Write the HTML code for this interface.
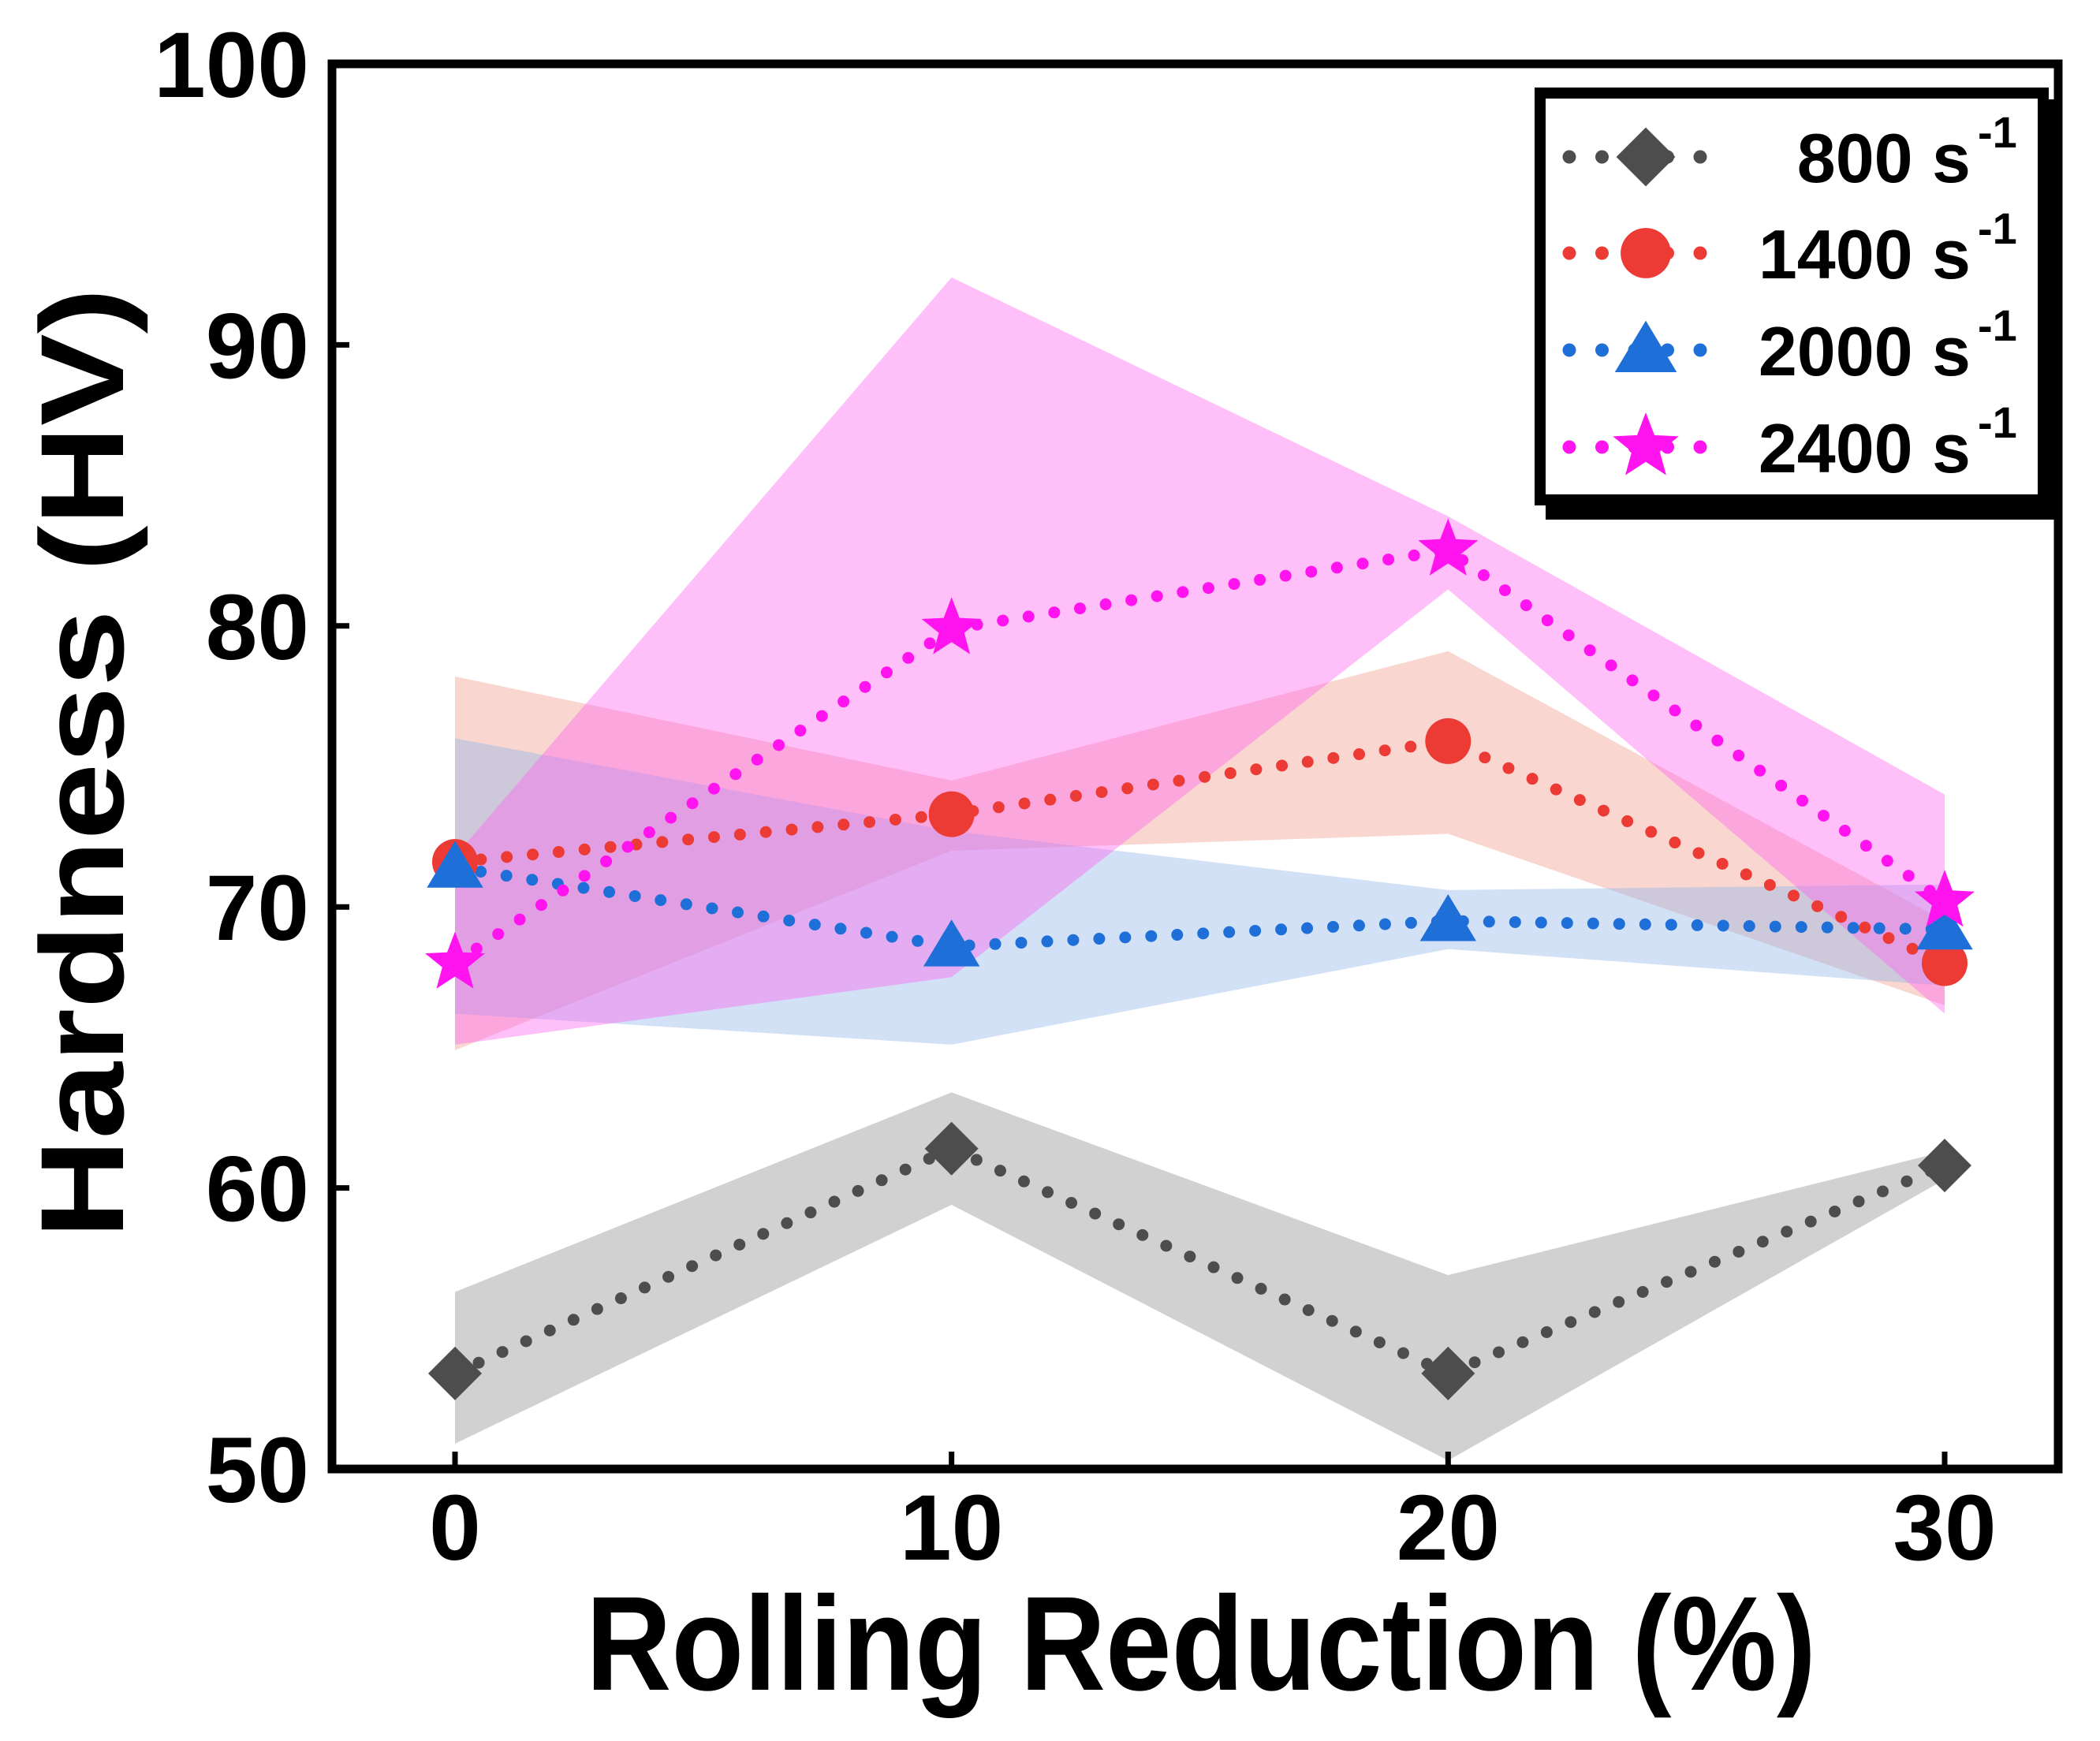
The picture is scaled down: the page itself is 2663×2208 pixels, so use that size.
<!DOCTYPE html>
<html><head><meta charset="utf-8"><style>
html,body{margin:0;padding:0;background:#fff;}
svg{display:block;font-family:"Liberation Sans",Arial,sans-serif;font-weight:bold;}
</style></head><body>
<svg id="chart" width="2663" height="2208" viewBox="0 0 2663 2208" xmlns="http://www.w3.org/2000/svg">
<g id="bands"></g>
<g id="lines"></g>
<g id="marks"></g>
<g id="axes"></g>
<g id="legend"></g>
</svg>
<script>
const categories = [0, 10, 20, 30];
const xTicks = [0, 10, 20, 30];
const yTicks = [50, 60, 70, 80, 90, 100];
const seriesNames = ["800", "1400", "2000", "2400"];
const s800 = [53.4, 61.4, 53.4, 60.8];
const s800Hi = [56.3, 63.4, 56.9, 61.3];
const s800Lo = [50.9, 59.4, 50.3, 60.3];
const s1400 = [71.6, 73.3, 75.9, 68.0];
const s1400Hi = [78.2, 74.5, 79.1, 69.5];
const s1400Lo = [64.9, 72.0, 72.6, 66.5];
const s2000 = [71.4, 68.6, 69.5, 69.2];
const s2000Hi = [76.0, 72.7, 70.6, 70.8];
const s2000Lo = [66.2, 65.1, 68.5, 67.2];
const s2400 = [68.0, 79.9, 82.7, 70.2];
const s2400Hi = [71.8, 92.4, 83.9, 74.0];
const s2400Lo = [65.1, 67.5, 81.3, 66.2];

const NS = "http://www.w3.org/2000/svg";
const L = 421, T = 81, R = 2610, B = 1863;
const X0 = 577, X1 = 2466;
function xs(v){ return X0 + (v - 0) / 30 * (X1 - X0); }
function ys(v){ return B - (v - 50) / 50 * (B - T); }
function mk(tag, attrs, parent){
  const e = document.createElementNS(NS, tag);
  for (const k in attrs) e.setAttribute(k, attrs[k]);
  parent.appendChild(e);
  return e;
}
const bands = document.getElementById('bands');
const lines = document.getElementById('lines');
const marks = document.getElementById('marks');
const axes = document.getElementById('axes');
const legend = document.getElementById('legend');

const series = [
  {name:"800", v:s800, hi:s800Hi, lo:s800Lo, color:"#4d4d4d", band:"#9a9a9a", op:0.45, shape:"diamond"},
  {name:"1400", v:s1400, hi:s1400Hi, lo:s1400Lo, color:"#ec3b35", band:"#ef9a8a", op:0.4, shape:"circle"},
  {name:"2000", v:s2000, hi:s2000Hi, lo:s2000Lo, color:"#1f6fd8", band:"#8fb5e8", op:0.4, shape:"triangle"},
  {name:"2400", v:s2400, hi:s2400Hi, lo:s2400Lo, color:"#ff14f0", band:"#ff60f0", op:0.4, shape:"star"}
];

function marker(shape, cx, cy, color, parent, scale){
  scale = scale || 1;
  let e;
  if (shape === "diamond") {
    const r = 34*scale;
    e = mk('polygon', {points:`${cx},${cy-r} ${cx+r},${cy} ${cx},${cy+r} ${cx-r},${cy}`, fill:color}, parent);
  } else if (shape === "circle") {
    e = mk('circle', {cx:cx, cy:cy, r:29*scale, fill:color}, parent);
  } else if (shape === "triangle") {
    const r = 34*scale;
    e = mk('polygon', {points:`${cx},${cy-r} ${cx+r*1.05},${cy+r*0.75} ${cx-r*1.05},${cy+r*0.75}`, fill:color}, parent);
  } else {
    const ro = 40*scale, ri = 17*scale; let p = [];
    for (let i=0;i<10;i++){ const a = -Math.PI/2 + i*Math.PI/5; const r = i%2?ri:ro; p.push((cx+r*Math.cos(a)).toFixed(1)+","+(cy+r*Math.sin(a)).toFixed(1)); }
    e = mk('polygon', {points:p.join(" "), fill:color}, parent);
  }
  return e;
}

series.forEach(s => {
  let pts = categories.map((c,i)=>xs(c)+","+ys(s.hi[i]));
  for (let i=categories.length-1;i>=0;i--) pts.push(xs(categories[i])+","+ys(s.lo[i]));
  const b = mk('polygon', {points:pts.join(" "), fill:s.band, 'fill-opacity':s.op}, bands);
  
  
  const ln = mk('polyline', {points:categories.map((c,i)=>xs(c)+","+ys(s.v[i])).join(" "), fill:"none", stroke:s.color, 'stroke-width':15, 'stroke-linecap':'round', 'stroke-dasharray':'0 33'}, lines);
  
  
  categories.forEach((c,i)=>{
    const m = marker(s.shape, xs(c), ys(s.v[i]), s.color, marks);
    
    
  });
});

const fr = mk('rect', {x:L, y:T, width:R-L, height:B-T, fill:"none", stroke:"#000", 'stroke-width':11}, axes);


xTicks.forEach(v=>{
  const t = mk('line', {x1:xs(v), x2:xs(v), y1:B, y2:B-22, stroke:"#000", 'stroke-width':7}, axes);
  
  
  const tx = mk('text', {x:xs(v), y:1978, 'text-anchor':'middle', 'font-size':118}, axes);
  tx.textContent = v;
  
  
});
yTicks.forEach(v=>{
  if (v>50 && v<100) {
    const t = mk('line', {x1:L, x2:L+22, y1:ys(v), y2:ys(v), stroke:"#000", 'stroke-width':7}, axes);
    
    
  }
  const tx = mk('text', {x:392, y:ys(v)+42, 'text-anchor':'end', 'font-size':118}, axes);
  tx.textContent = v;
  
  
});
const xt = mk('text', {x:1523, y:2143, 'text-anchor':'middle', 'font-size':170, textLength:1560, lengthAdjust:'spacingAndGlyphs'}, axes);
xt.textContent = "Rolling Reduction (%)";


const yt = mk('text', {x:0, y:0, 'text-anchor':'middle', 'font-size':150, textLength:1206, lengthAdjust:'spacingAndGlyphs', transform:'translate(156,968) rotate(-90)'}, axes);
yt.textContent = "Hardness (HV)";



const sh = mk('rect', {x:1960, y:126, width:650, height:533, fill:"#000"}, legend);


const lb = mk('rect', {x:1953, y:118, width:638, height:516, fill:"#fff", stroke:"#000", 'stroke-width':14}, legend);


const rowsY = [199, 321, 444, 567];
series.forEach((s,i)=>{
  const g = mk('g', {}, legend);
  
  
  const y = rowsY[i];
  mk('line', {x1:1990, x2:2165, y1:y, y2:y, stroke:s.color, 'stroke-width':17, 'stroke-linecap':'round', 'stroke-dasharray':'0 41.5'}, g);
  marker(s.shape, 2087, y, s.color, g, 1.1);
  const t = mk('text', {x:2499, y:y+32, 'text-anchor':'end', 'font-size':88}, g);
  t.textContent = s.name + " s";
  const sp = mk('text', {x:2508, y:y-12, 'font-size':56}, g);
  sp.textContent = "-1";
});
</script>
</body></html>
